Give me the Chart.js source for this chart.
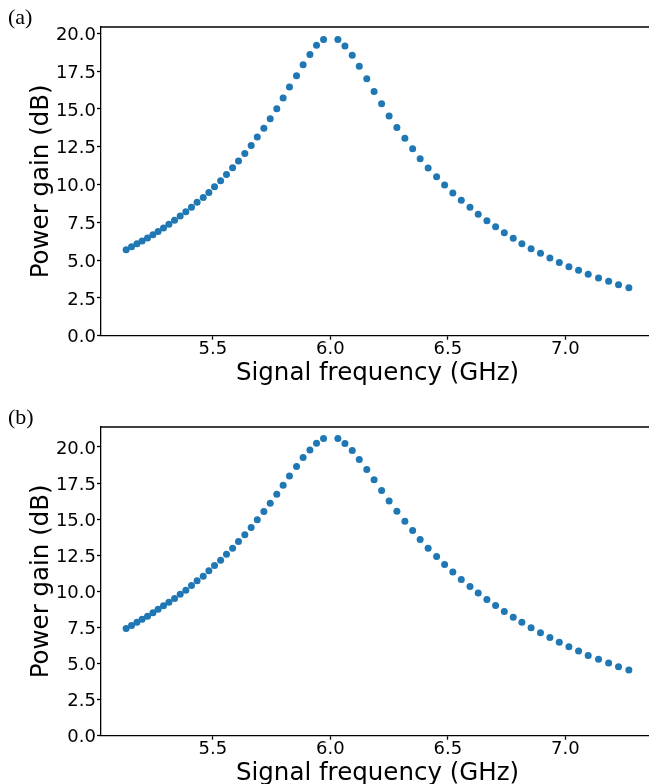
<!DOCTYPE html>
<html>
<head>
<meta charset="utf-8">
<script src="https://cdn.jsdelivr.net/npm/chart.js@4/dist/chart.umd.min.js"></script>
<style>
  html, body { margin: 0; padding: 0; background: #fff; overflow: hidden; }
  body { width: 649px; height: 784px; position: relative; }
  .panel { position: absolute; left: 0; width: 680px; height: 400px; }
  .panel canvas { position: absolute; left: 0; top: 0; }
  .tag { position: absolute; left: 8px; top: 6px; font-family: "Liberation Serif", "Times New Roman", serif; font-size: 22px; line-height: 1; color: #000; }
</style>
</head>
<body>
<div class="panel" style="top:0px"><canvas id="gainA" width="680" height="400"></canvas><div class="tag">(a)</div></div>
<div class="panel" style="top:400px"><canvas id="gainB" width="680" height="400"></canvas><div class="tag">(b)</div></div>
<script>
// Signal frequency sweep (GHz), shared by both measurements
const freq = [5.131,5.154,5.177,5.199,5.222,5.245,5.267,5.290,5.313,5.337,5.361,5.385,5.409,5.433,5.459,5.483,5.507,5.533,5.558,5.584,5.609,5.636,5.663,5.689,5.717,5.744,5.772,5.799,5.826,5.856,5.884,5.913,5.941,5.971,
              6.032,6.062,6.093,6.123,6.155,6.186,6.218,6.250,6.283,6.317,6.350,6.382,6.416,6.452,6.486,6.521,6.557,6.594,6.629,6.666,6.703,6.740,6.778,6.815,6.854,6.894,6.934,6.974,7.015,7.056,7.097,7.141,7.184,7.226,7.270];

// Power gain (dB), panel (a)
const gainA = [5.69,5.89,6.08,6.26,6.46,6.68,6.90,7.12,7.37,7.63,7.92,8.20,8.49,8.82,9.15,9.48,9.85,10.25,10.67,11.11,11.55,12.06,12.59,13.14,13.72,14.35,15.01,15.72,16.45,17.20,17.92,18.61,19.21,19.60,
               19.60,19.16,18.55,17.82,17.00,16.16,15.34,14.53,13.78,13.06,12.37,11.71,11.09,10.52,9.97,9.44,8.96,8.49,8.03,7.61,7.21,6.81,6.44,6.08,5.75,5.45,5.14,4.85,4.56,4.33,4.06,3.82,3.60,3.37,3.17];

// Power gain (dB), panel (b)
const gainB = [7.43,7.64,7.85,8.06,8.28,8.51,8.75,9.00,9.25,9.51,9.79,10.08,10.41,10.73,11.05,11.42,11.79,12.16,12.57,12.99,13.45,13.91,14.42,14.95,15.53,16.10,16.73,17.35,17.99,18.64,19.27,19.79,20.26,20.58,
               20.58,20.24,19.75,19.13,18.44,17.72,16.98,16.26,15.55,14.86,14.21,13.59,12.99,12.42,11.86,11.33,10.82,10.34,9.88,9.44,9.02,8.61,8.21,7.85,7.47,7.13,6.81,6.48,6.16,5.86,5.56,5.29,5.03,4.78,4.55];

const xTicks = [5.5, 6.0, 6.5, 7.0];
const yTicks = [0.0, 2.5, 5.0, 7.5, 10.0, 12.5, 15.0, 17.5, 20.0];

const xTitle = 'Signal frequency (GHz)';
const yTitle = 'Power gain (dB)';

const INK = '#000';
const DOT = '#1f77b4';
const FONT = 'DejaVu Sans';

// top spine of the axes box
const topSpine = {
  id: 'topSpine',
  afterDraw(chart) {
    const { ctx, chartArea: a } = chart;
    ctx.save();
    ctx.strokeStyle = INK;
    ctx.lineWidth = 1.3;
    ctx.beginPath();
    ctx.moveTo(a.left, a.top);
    ctx.lineTo(a.right, a.top);
    ctx.stroke();
    ctx.restore();
  }
};

function drawPanel(id, gains) {
  const fLo = Math.min(...freq), fHi = Math.max(...freq);
  const fPad = 0.05 * (fHi - fLo);
  const gLo = Math.min(...gains), gHi = Math.max(...gains);
  const gTop = gHi + 0.05 * (gHi - gLo);

  new Chart(document.getElementById(id), {
    type: 'scatter',
    data: {
      datasets: [{
        data: freq.map((f, i) => ({ x: f, y: gains[i] })),
        pointRadius: 3.5,
        pointHoverRadius: 3.5,
        pointBackgroundColor: DOT,
        pointBorderWidth: 0,
        showLine: false
      }]
    },
    options: {
      responsive: false,
      animation: false,
      events: [],
      layout: { padding: { top: 27, right: 26, left: 0, bottom: 0 } },
      plugins: { legend: { display: false }, tooltip: { enabled: false } },
      scales: {
        x: {
          type: 'linear',
          min: fLo - fPad,
          max: fHi + fPad,
          afterBuildTicks: s => { s.ticks = xTicks.map(v => ({ value: v })); },
          afterFit: s => { s.height = 64.3; },
          ticks: { autoSkip: false, maxRotation: 0, color: INK, padding: -1, font: { family: FONT, size: 18 }, callback: v => v.toFixed(1) },
          grid: { drawOnChartArea: false, drawTicks: true, tickLength: 4, tickColor: INK, tickWidth: 1.3 },
          border: { display: true, color: INK, width: 1.3 },
          title: { display: true, text: xTitle, color: INK, font: { family: FONT, size: 24.5 }, padding: { top: 0, bottom: 12 } }
        },
        y: {
          type: 'linear',
          min: 0,
          max: gTop,
          afterBuildTicks: s => { s.ticks = yTicks.map(v => ({ value: v })); },
          afterFit: s => { s.width = 101; },
          ticks: { autoSkip: false, color: INK, padding: 1, labelOffset: 2, font: { family: FONT, size: 18 }, callback: v => v.toFixed(1) },
          grid: { drawOnChartArea: false, drawTicks: true, tickLength: 4, tickColor: INK, tickWidth: 1.3 },
          border: { display: true, color: INK, width: 1.3 },
          title: { display: true, text: yTitle, color: INK, font: { family: FONT, size: 24.5 }, padding: { top: 27, bottom: 0 } }
        }
      }
    },
    plugins: [topSpine]
  });
}

drawPanel('gainA', gainA);
drawPanel('gainB', gainB);
</script>
</body>
</html>
